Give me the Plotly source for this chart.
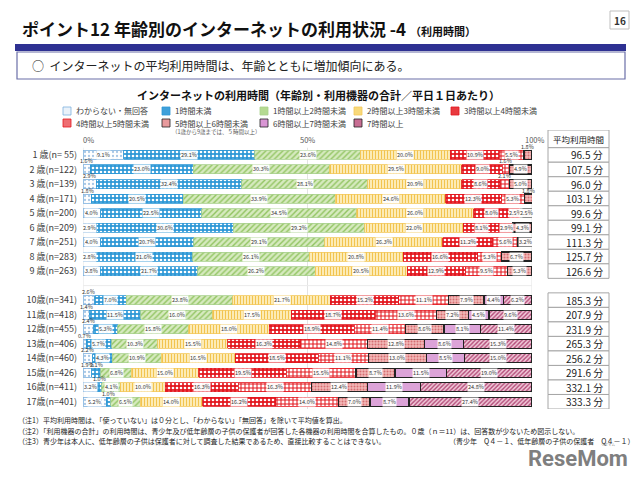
import plotly.graph_objects as go

# ---------------- data ----------------
ages = ["1 歳(n= 55)", "2 歳(n=122)", "3 歳(n=139)", "4 歳(n=171)", "5 歳(n=200)",
        "6 歳(n=209)", "7 歳(n=251)", "8 歳(n=283)", "9 歳(n=263)",
        "10歳(n=341)", "11歳(n=418)", "12歳(n=455)", "13歳(n=406)", "14歳(n=460)",
        "15歳(n=426)", "16歳(n=411)", "17歳(n=401)"]
categories = ["わからない・無回答", "1時間未満", "1時間以上2時間未満", "2時間以上3時間未満",
              "3時間以上4時間未満", "4時間以上5時間未満", "5時間以上6時間未満",
              "6時間以上7時間未満", "7時間以上"]
v_unknown = [9.1, 1.6, 2.9, 1.8, 4.0, 2.9, 4.0, 2.8, 3.8, 2.6, 1.4, 2.4, 0.7, 2.2, 1.9, 3.2, 5.2]
v_lt1 = [29.1, 23.0, 32.4, 20.5, 22.5, 30.6, 20.7, 21.6, 21.7, 7.0, 11.5, 5.3, 5.7, 4.3, 2.1, 1.0, 1.0]
v_1to2 = [23.6, 30.3, 28.1, 33.9, 34.5, 29.2, 29.1, 26.1, 26.2, 23.8, 16.0, 15.8, 10.3, 10.9, 6.8, 4.1, 6.5]
v_2to3 = [20.0, 29.5, 20.9, 24.6, 26.0, 22.0, 26.3, 20.8, 20.5, 21.7, 17.5, 18.0, 15.5, 16.5, 15.0, 10.0, 14.0]
v_3to4 = [10.9, 9.0, 8.6, 12.3, 8.0, 8.1, 11.2, 16.6, 12.9, 15.2, 18.7, 18.9, 16.3, 18.5, 19.5, 16.3, 16.2]
v_4to5 = [5.5, 1.6, 2.1, 5.3, 2.5, 2.9, 5.6, 5.3, 9.5, 11.1, 13.6, 11.4, 14.8, 11.1, 15.5, 16.3, 14.0]
# ages 1-9: "5時間以上" is stored in the 5-6h series
v_5to6 = [1.8, 4.9, 5.0, 1.8, 2.5, 4.3, 3.2, 6.7, 5.3, 7.9, 7.2, 8.6, 12.8, 13.0, 8.7, 12.4, 7.0]
v_6to7 = [None] * 9 + [4.4, 4.5, 8.1, 8.6, 8.5, 11.5, 11.9, 8.7]
v_7plus = [None] * 9 + [6.2, 9.6, 11.4, 15.3, 15.0, 19.0, 24.8, 27.4]
avg_minutes = [96.5, 107.5, 96.0, 103.1, 99.6, 99.1, 111.3, 125.7, 126.6,
               185.3, 207.9, 231.9, 265.3, 256.2, 291.6, 332.1, 333.3]
x_ticks = [0, 50, 100]
x_tick_labels = ["0%", "50%", "100%"]

series = [v_unknown, v_lt1, v_1to2, v_2to3, v_3to4, v_4to5, v_5to6, v_6to7, v_7plus]

# ---------------- layout helpers ----------------
W, H = 640, 479
ML, MR, MT, MB = 83, 31, 130, 70
PW, PH = W - ML - MR, H - MT - MB


def px(x):
    return (x - ML) / PW


def py(y):
    return (H - MB - y) / PH


FONT = "Noto Sans CJK JP"
styles = [
    dict(bg="#FFFFFF", fg="#A9C8E6", shape=".", size=4, sol=0.25, line="#7EB1DE", lw=0.8, icon="#EAF2FA"),
    dict(bg="#2E98D6", fg="#FFFFFF", shape=".", size=4, sol=0.35, line="#2E98D6", lw=0.8, icon="#3FA0DA"),
    dict(bg="#D6EABF", fg="#92C462", shape="/", size=4, sol=0.35, line="#A9D18E", lw=0.8, icon="#B5DA92"),
    dict(bg="#FFF4CC", fg="#F2C44F", shape="|", size=3, sol=0.45, line="#F2C85B", lw=0.8, icon="#F8D97A"),
    dict(bg="#E3171E", fg="#FFFFFF", shape=".", size=4, sol=0.35, line="#E3171E", lw=0.8, icon="#E83A3F"),
    dict(bg="#FFFFFF", fg="#E3171E", shape="+", size=4, sol=0.45, line="#E3171E", lw=0.8, icon="#EE6E72"),
    dict(bg="#F3B8B8", fg="#D66E72", shape=".", size=3, sol=0.35, line="#222222", lw=1.2, icon="#E89A9C"),
    dict(bg="#DCA3D8", fg="#C77FC2", shape="", size=3, sol=0.3, line="#222222", lw=1.2, icon="#D996D4"),
    dict(bg="#F1C9D9", fg="#B34B78", shape="/", size=3, sol=0.45, line="#222222", lw=1.2, icon="#C86E93"),
]

spacer = " "
cat_array = ages[:9] + [spacer] + ages[9:]

fig = go.Figure()
for name, vals, st in zip(categories, series, styles):
    fig.add_trace(go.Bar(
        x=vals, y=ages, orientation="h", name=name, showlegend=False,
        marker=dict(color=st["bg"],
                    line=dict(color=st["line"], width=st["lw"]),
                    pattern=dict(shape=st["shape"], fgcolor=st["fg"], bgcolor=st["bg"],
                                 size=st["size"], solidity=st["sol"], fillmode="replace")),
        hoverinfo="skip",
    ))

annotations = []
shapes = []

# segment labels
above_pairs = {(1, 0), (2, 0), (3, 0), (9, 0), (10, 0), (11, 0), (12, 0), (13, 0), (14, 0), (14, 1),
               (15, 1), (16, 1), (0, 6), (1, 5), (2, 5), (3, 6)}
for r, age in enumerate(ages):
    cum = 0.0
    for c, vals in enumerate(series):
        v = vals[r]
        if v is None:
            continue
        mid = cum + v / 2
        cum += v
        above = (r, c) in above_pairs
        ann = dict(x=mid, y=age, xref="x", yref="y", text=f"{v:.1f}%", showarrow=False,
                   font=dict(size=5.5, color="#333333", family=FONT),
                   borderpad=0, yshift=8 if above else 0)
        if not above:
            ann["bgcolor"] = "rgba(255,255,255,0.95)"
        annotations.append(ann)

# x tick labels (top)
for xv, lab in zip(x_ticks, x_tick_labels):
    annotations.append(dict(x=xv, y=-1.1, xref="x", yref="y", text=lab, showarrow=False,
                            font=dict(size=7.5, color="#595959", family=FONT),
                            xshift=5 if xv == 0 else (2 if xv == 100 else 0)))

# gridlines
for xv in x_ticks:
    shapes.append(dict(type="line", xref="x", yref="y", x0=xv, x1=xv, y0=-0.5, y1=17.5,
                       line=dict(color="#E3E3E3", width=1), layer="below"))
shapes.append(dict(type="line", xref="x", yref="y", x0=0, x1=100, y0=9, y1=9,
                   line=dict(color="#EBEBEB", width=1), layer="below"))

# ---------- average-time table ----------
tx0, tx1 = px(548), px(609)
tbl_line = dict(color="#A6A6A6", width=1)
shapes.append(dict(type="rect", xref="paper", yref="y", x0=tx0, x1=tx1, y0=-1.72, y1=-0.5,
                   line=tbl_line, fillcolor="white"))
annotations.append(dict(x=(tx0 + tx1) / 2, y=-1.11, xref="paper", yref="y", text="平均利用時間",
                        showarrow=False, xanchor="center", yanchor="middle",
                        font=dict(size=8.5, color="#222222", family=FONT)))
for r, age in enumerate(ages):
    idx = cat_array.index(age)
    shapes.append(dict(type="rect", xref="paper", yref="y", x0=tx0, x1=tx1,
                       y0=idx - 0.5, y1=idx + 0.5, line=tbl_line, fillcolor="white"))
    annotations.append(dict(x=tx1, y=age, xref="paper", yref="y", text=f"{avg_minutes[r]:.1f} 分",
                            showarrow=False, xanchor="right", yanchor="middle", xshift=-4,
                            font=dict(size=10, color="#222222", family=FONT)))

# ---------- legend (manual) ----------
leg_x = [67, 166, 264, 358, 455]
leg_y = [111, 123]
for i, (name, st) in enumerate(zip(categories, styles)):
    row, col = divmod(i, 5)
    lx, ly = leg_x[col], leg_y[row]
    shapes.append(dict(type="rect", xref="paper", yref="paper",
                       x0=px(lx - 4), x1=px(lx + 4), y0=py(ly + 4), y1=py(ly - 4),
                       fillcolor=st["icon"], line=dict(color=st["line"], width=0.8)))
    annotations.append(dict(x=px(lx + 7), y=py(ly), xref="paper", yref="paper",
                            text=name, showarrow=False, xanchor="left", yanchor="middle",
                            font=dict(size=8, color="#404040", family=FONT)))
annotations.append(dict(x=px(170), y=py(131.5), xref="paper", yref="paper",
                        text="（1歳から9歳までは、５時間以上）", showarrow=False,
                        xanchor="left", yanchor="middle",
                        font=dict(size=5.5, color="#595959", family=FONT)))

# ---------- page texts ----------
def P(x, y, anchor="left"):
    return dict(x=px(x), y=py(y), xref="paper", yref="paper", xanchor=anchor, yanchor="middle")


page_annots = [
    dict(**P(20, 28), text="<b>ポイント12 年齢別のインターネットの利用状況 -4</b> <b><span style='font-size:11px'>（利用時間）</span></b>",
         font=dict(size=17, color="#111111", family=FONT)),
    dict(**P(619.5, 20, "center"), text="<b>16</b>", font=dict(size=10, color="#333333", family=FONT)),
    dict(**P(30, 65.5), text="○  インターネットの平均利用時間は、年齢とともに増加傾向にある。",
         font=dict(size=12, color="#222222", family=FONT)),
    dict(**P(318, 95, "center"), text="<b>インターネットの利用時間（年齢別・利用機器の合計／平日１日あたり）</b>",
         font=dict(size=11, color="#111111", family=FONT)),
    dict(**P(16, 420), text="（注1）平均利用時間は、「使っていない」は０分とし、「わからない」「無回答」を除いて平均値を算出。",
         font=dict(size=7, color="#222222", family=FONT)),
    dict(**P(16, 430.5), text="（注2）「利用機器の合計」の利用時間は、青少年及び低年齢層の子供の保護者が回答した各機器の利用時間を合算したもの。０歳（ｎ＝11）は、回答数が少ないため図示しない。",
         font=dict(size=7, color="#222222", family=FONT)),
    dict(**P(16, 441), text="（注3）青少年は本人に、低年齢層の子供は保護者に対して調査した結果であるため、直接比較することはできない。",
         font=dict(size=7, color="#222222", family=FONT)),
    dict(**P(636, 440.5, "right"), text="（青少年　Q４－１、低年齢層の子供の保護者　Q４－１）",
         font=dict(size=7, color="#222222", family=FONT)),
    dict(**P(578, 458, "center"), text="<b>ReseMom</b>", font=dict(size=22, color="#7F7F7F", family="Roboto")),
    dict(**P(608, 445, "center"), text="リセマム", font=dict(size=3.5, color="#7F7F7F", family=FONT)),
]
for a in page_annots:
    a["showarrow"] = False
    annotations.append(a)


def R(x0, y0, x1, y1):
    return dict(xref="paper", yref="paper", x0=px(x0), x1=px(x1), y0=py(y1), y1=py(y0))


shapes.append(dict(type="rect", **R(15, 44, 626, 51), fillcolor="#2E3192", line=dict(width=0)))
shapes.append(dict(type="rect", **R(17, 52, 625, 79), fillcolor="rgba(0,0,0,0)",
                   line=dict(color="#6B6FA8", width=1.2)))
shapes.append(dict(type="rect", **R(610, 11, 629, 29), fillcolor="white",
                   line=dict(color="#BFBFBF", width=1)))

fig.update_layout(
    width=W, height=H,
    margin=dict(l=ML, r=MR, t=MT, b=MB),
    paper_bgcolor="white", plot_bgcolor="rgba(0,0,0,0)",
    barmode="stack", bargap=0.38,
    showlegend=False,
    font=dict(family=FONT),
    xaxis=dict(range=[0, 100], domain=[0, px(532)], showgrid=False, zeroline=False,
               showticklabels=False, fixedrange=True),
    yaxis=dict(type="category", categoryorder="array", categoryarray=cat_array,
               range=[17.5, -1.72], showgrid=False, zeroline=False,
               tickfont=dict(size=9, color="#404040", family=FONT),
               ticklabelstandoff=5, ticks="", fixedrange=True),
    annotations=annotations,
    shapes=shapes,
)

fig.write_html("out.html", config={"displayModeBar": False},
               post_script="document.body.style.margin='0';document.body.style.overflow='hidden';")
